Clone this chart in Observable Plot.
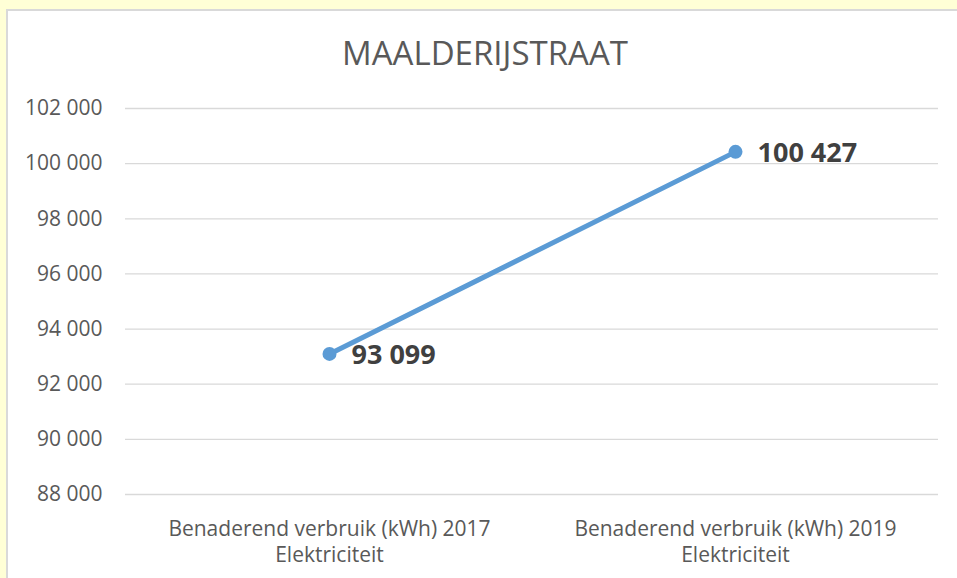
<!DOCTYPE html>
<html>
<head>
<meta charset="utf-8">
<script src="https://cdn.jsdelivr.net/npm/d3@7"></script>
<script src="https://cdn.jsdelivr.net/npm/@observablehq/plot@0.6"></script>
<style>
  html, body { margin: 0; padding: 0; }
  body { width: 957px; height: 578px; overflow: hidden; background: #FFFFD6; position: relative; font-family: "Open Sans", sans-serif; }
  #panel { position: absolute; left: 6px; top: 9px; width: 951px; height: 569px; box-sizing: border-box;
           background: #fff; border-left: 2px solid #D9D9D9; border-top: 2px solid #D9D9D9; }
  #panel svg { display: block; }
  #title { position: absolute; left: 335px; width: 300px; top: 36px; text-align: center; font-size: 33px;
           line-height: 33px; color: #595959; font-family: "Open Sans", sans-serif; font-weight: 400; white-space: nowrap; }
</style>
</head>
<body>
<div id="panel"></div>
<div id="title">MAALDERIJSTRAAT</div>
<script>
const title = "MAALDERIJSTRAAT";
const categories = [
  "Benaderend verbruik (kWh) 2017\nElektriciteit",
  "Benaderend verbruik (kWh) 2019\nElektriciteit"
];
const values = [93099, 100427];
const yTicks = [88000, 90000, 92000, 94000, 96000, 98000, 100000, 102000];

const data = categories.map((c, i) => ({cat: c, value: values[i]}));
const fmt = d3.formatLocale({thousands: " ", grouping: [3], decimal: ",", currency: ["", ""]}).format(",");

const chart = Plot.plot({
  width: 949,
  height: 567,
  marginLeft: 117,
  marginRight: 19,
  marginTop: 97,
  marginBottom: 84,
  style: {fontFamily: "Open Sans", background: "white", color: "#595959", overflow: "visible"},
  x: {type: "point", domain: categories, padding: 0.5, axis: null},
  y: {domain: [88000, 102000], axis: null},
  marks: [
    Plot.gridY(yTicks, {stroke: "#D9D9D9", strokeOpacity: 1, strokeWidth: 1.3}),
    Plot.axisY(yTicks, {tickSize: 0, tickPadding: 23, fontSize: 21, fill: "#595959", tickFormat: fmt, label: null}),
    Plot.axisX({tickSize: 0, tickPadding: 24, fontSize: 21, lineHeight: 1.2, fill: "#595959", label: null}),
    Plot.line(data, {x: "cat", y: "value", stroke: "#5B9BD5", strokeWidth: 5}),
    Plot.dot(data, {x: "cat", y: "value", r: 7, fill: "#5B9BD5"}),
    Plot.text(data, {x: "cat", y: "value", text: d => fmt(d.value), dx: 22, dy: 1, textAnchor: "start",
                     fontSize: 27, fontWeight: "bold", fill: "#404040"})
  ]
});
document.getElementById("panel").appendChild(chart);
</script>
</body>
</html>
